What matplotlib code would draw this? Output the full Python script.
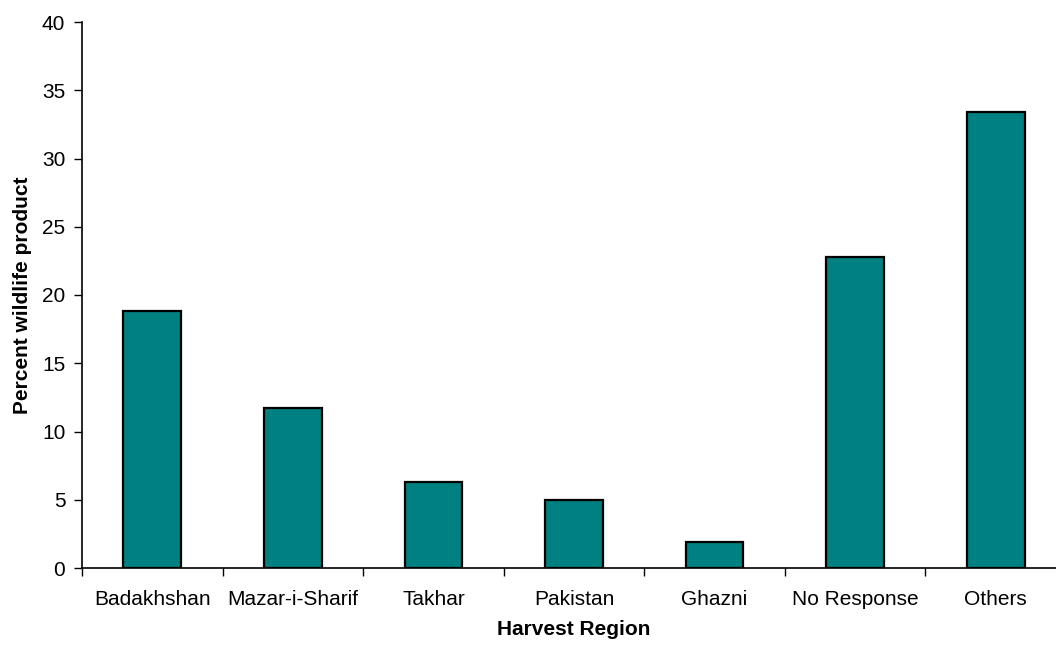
import matplotlib
matplotlib.use("Agg")
import matplotlib.pyplot as plt
import numpy as np

regions = ["Badakhshan", "Mazar-i-Sharif", "Takhar", "Pakistan", "Ghazni", "No Response", "Others"]
percent = [18.8, 11.7, 6.3, 5.0, 1.9, 22.8, 33.4]

plt.rcParams['font.family'] = ['Liberation Sans', 'DejaVu Sans']

fig = plt.figure(figsize=(10.56, 6.47), dpi=100)
ax = fig.add_axes([82/1056, 79/647, 984/1056, 546/647])

x = np.arange(len(regions))
ax.bar(x, percent, width=0.41, color='#008080', edgecolor='black', linewidth=1.6)

ax.set_xlim(-0.5, len(regions) - 0.5)
ax.set_ylim(0, 40)
ax.set_yticks(range(0, 41, 5))
ax.set_xticks(x)
ax.set_xticklabels(regions)
ax.set_xticks(np.arange(-0.5, len(regions), 1), minor=True)
ax.tick_params(axis='x', which='major', length=0, pad=16, labelsize=15)
ax.tick_params(axis='x', which='minor', length=6, width=1)
ax.tick_params(axis='y', length=6, width=1, labelsize=15, pad=6)

for s in ['top', 'right']:
    ax.spines[s].set_visible(False)
ax.spines['left'].set_linewidth(1.2)
ax.spines['bottom'].set_linewidth(1.2)

ax.set_xlabel("Harvest Region", fontsize=15, fontweight='bold', labelpad=8)
ax.set_ylabel("Percent wildlife product", fontsize=15, fontweight='bold', labelpad=7)

fig.savefig("out.png", dpi=100)
